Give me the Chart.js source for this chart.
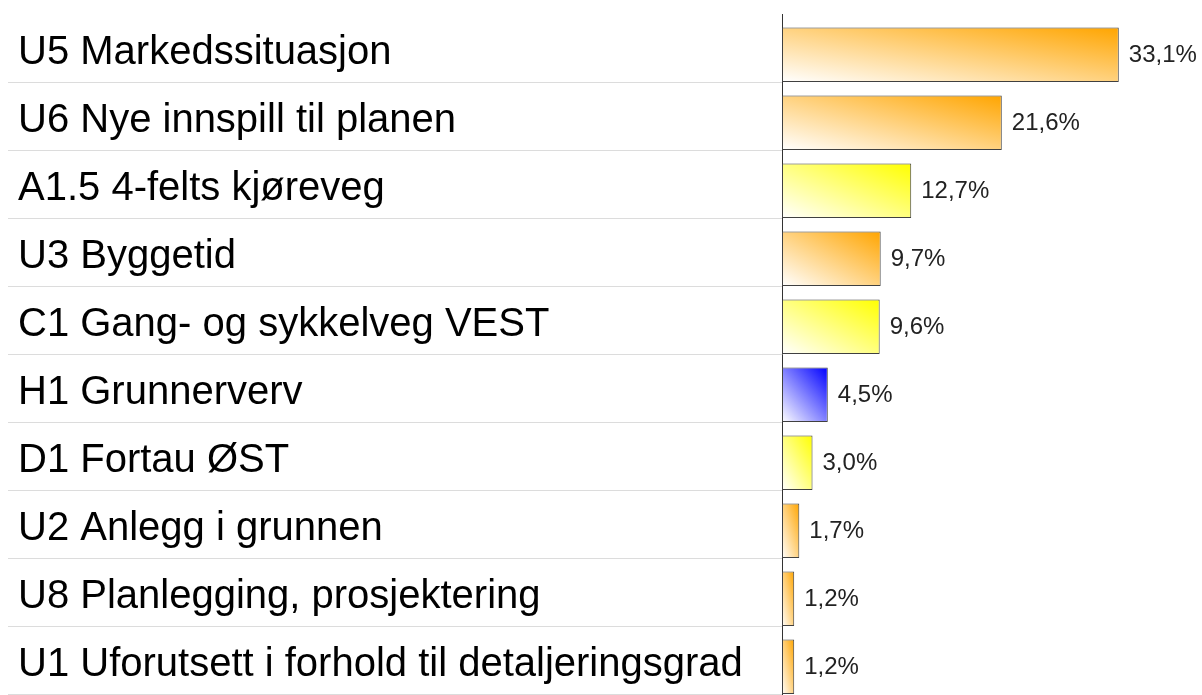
<!DOCTYPE html>
<html>
<head>
<meta charset="utf-8">
<style>
  html, body { margin: 0; padding: 0; background: #fff; }
  #wrap { width: 1202px; height: 695px; position: relative; }
</style>
<script src="https://cdn.jsdelivr.net/npm/chart.js@4/dist/chart.umd.min.js"></script>
</head>
<body>
<div id="wrap"><canvas id="chart"></canvas></div>
<script>
// categories, top to bottom
const labels = [
    'U5 Markedssituasjon',
    'U6 Nye innspill til planen',
    'A1.5 4-felts kjøreveg',
    'U3 Byggetid',
    'C1 Gang- og sykkelveg VEST',
    'H1 Grunnerverv',
    'D1 Fortau ØST',
    'U2 Anlegg i grunnen',
    'U8 Planlegging, prosjektering',
    'U1 Uforutsett i forhold til detaljeringsgrad'
];

// share in percent
const shares = [33.1, 21.6, 12.7, 9.7, 9.6, 4.5, 3.0, 1.7, 1.2, 1.2];

// colour group per bar
const groups = ['orange', 'orange', 'yellow', 'orange', 'yellow', 'blue', 'yellow', 'orange', 'orange', 'orange'];

const groupColors = { orange: '#FFA500', yellow: '#FFFF00', blue: '#0000FF' };

const BAR_PCT = 0.8;
const FONT = '"Liberation Sans", Arial, sans-serif';

// fill each bar with a white -> colour gradient, corner to corner of the bar box
function barGradient(ctx, left, right, top, bottom, color) {
    const w = right - left;
    const h = bottom - top;
    const d = w * w + h * h;
    const a = 2 * w * h * h / d;
    const b = -2 * w * w * h / d;
    const g = ctx.createLinearGradient(left, bottom, left + a, bottom + b);
    g.addColorStop(0, '#FFFFFF');
    g.addColorStop(1, color);
    return g;
}

// bars sit on the lower edge of their row, not in the middle
const barPlacement = {
    id: 'barPlacement',
    afterDatasetsUpdate(chart) {
        const yScale = chart.scales.y;
        const rowH = (yScale.bottom - yScale.top) / labels.length;
        const shift = rowH * (1 - BAR_PCT) / 2;
        const meta = chart.getDatasetMeta(0);
        meta.data.forEach((bar, i) => {
            bar.y += shift;
            const top = bar.y - bar.height / 2;
            const bottom = bar.y + bar.height / 2;
            bar.options.backgroundColor = barGradient(chart.ctx, bar.base, bar.x, top, bottom, groupColors[groups[i]]);
        });
    }
};

// value text right of each bar
const valueLabels = {
    id: 'valueLabels',
    afterDatasetsDraw(chart) {
        const ctx = chart.ctx;
        const meta = chart.getDatasetMeta(0);
        ctx.save();
        ctx.font = '24px ' + FONT;
        ctx.fillStyle = '#222';
        ctx.textAlign = 'left';
        ctx.textBaseline = 'middle';
        meta.data.forEach((bar, i) => {
            const txt = shares[i].toFixed(1).replace('.', ',') + '%';
            ctx.fillText(txt, bar.x + 10, bar.y + 1);
        });
        ctx.restore();
    }
};

new Chart(document.getElementById('chart'), {
    type: 'bar',
    data: {
        labels: labels,
        datasets: [{
            data: shares,
            // scriptable so every bar keeps its own options object
            backgroundColor: (c) => groupColors[groups[c.dataIndex]],
            borderColor: '#404040',
            borderWidth: 1,
            borderSkipped: false,
            categoryPercentage: 1,
            barPercentage: BAR_PCT
        }]
    },
    options: {
        indexAxis: 'y',
        responsive: true,
        maintainAspectRatio: false,
        animation: false,
        layout: {
            padding: { top: 14, bottom: 1, left: 18, right: 13 }
        },
        plugins: {
            legend: { display: false },
            tooltip: { enabled: false }
        },
        scales: {
            x: {
                display: false,
                min: 0,
                max: 40
            },
            y: {
                afterFit(scale) {
                    scale.width = 764;
                    scale.paddingTop = 0;
                    scale.paddingBottom = 0;
                },
                grid: {
                    drawOnChartArea: false,
                    drawTicks: true,
                    tickLength: 774,
                    color: (c) => (c.index === 0 ? 'rgba(0,0,0,0)' : '#dcdcdc'),
                    lineWidth: 1
                },
                border: {
                    display: true,
                    color: '#333',
                    width: 1
                },
                ticks: {
                    crossAlign: 'far',
                    color: '#000',
                    padding: 0,
                    labelOffset: 5,
                    font: { family: FONT, size: 40 }
                }
            }
        }
    },
    plugins: [barPlacement, valueLabels]
});
</script>
</body>
</html>
